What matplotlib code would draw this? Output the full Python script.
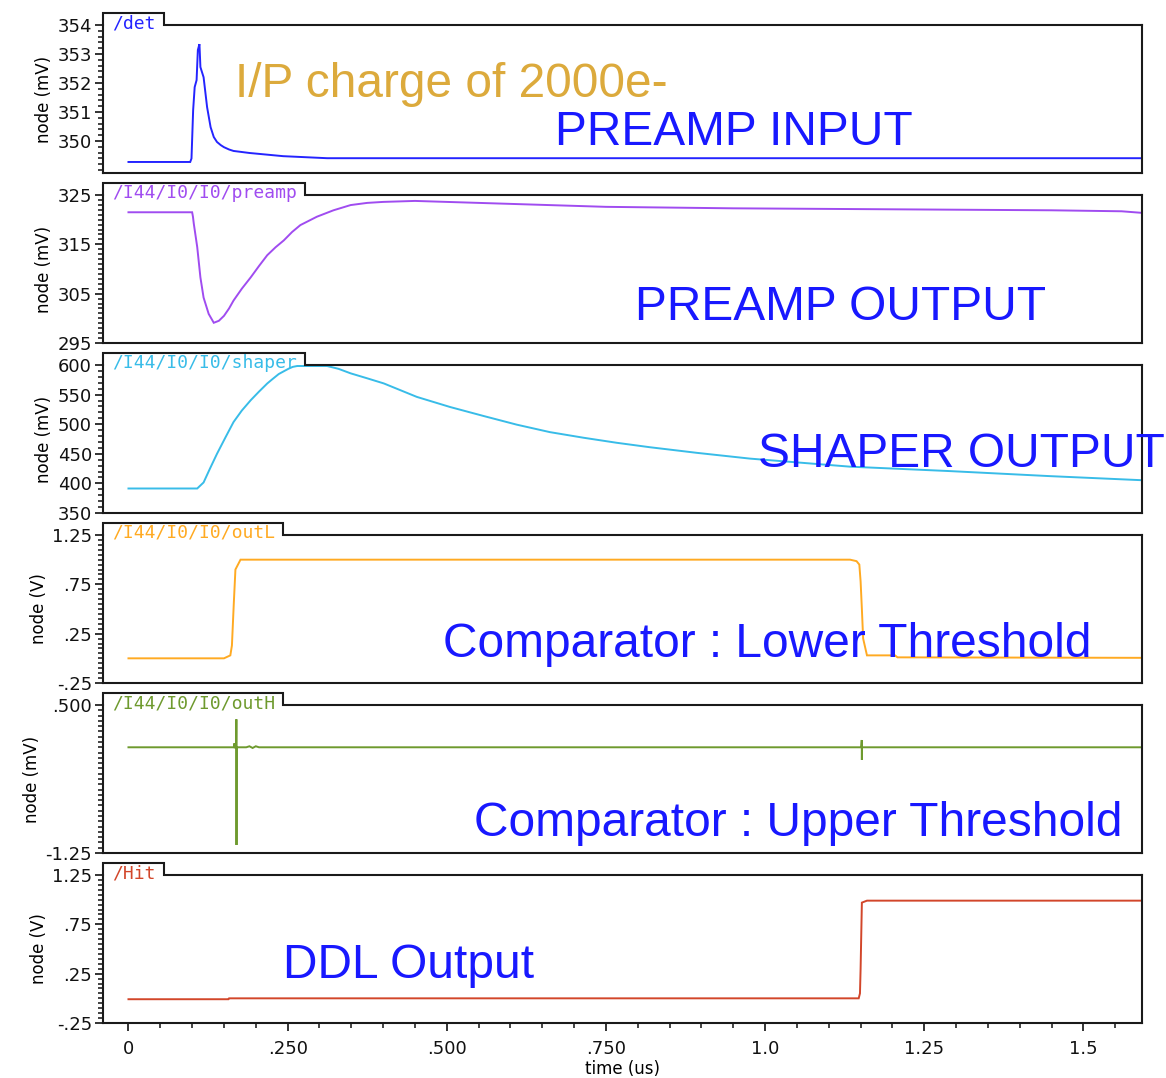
import matplotlib
matplotlib.use("Agg")
import matplotlib.pyplot as plt
from matplotlib.lines import Line2D
from matplotlib.ticker import FixedLocator, MultipleLocator, NullFormatter

W, H = 1166, 1078

# shared time axis (us)
time_ticks = [0, 0.25, 0.5, 0.75, 1.0, 1.25, 1.5]
time_labels = ["0", ".250", ".500", ".750", "1.0", "1.25", "1.5"]
time_lim = (-0.04, 1.592)

# /det  (mV)
det_t = [0.0, 0.097, 0.099, 0.1016, 0.104, 0.107, 0.109, 0.1115, 0.113, 0.118,
         0.1235, 0.129, 0.134, 0.139, 0.145, 0.150, 0.158, 0.165, 0.19, 0.243, 0.312, 0.8, 1.6]
det_v = [349.28, 349.28, 349.4, 351.07, 351.86, 352.1, 353.14, 353.34, 352.55, 352.2,
         351.17, 350.48, 350.14, 349.97, 349.86, 349.79, 349.71, 349.66, 349.59, 349.48,
         349.41, 349.41, 349.41]

# /I44/I0/I0/preamp  (mV)
pre_t = [0.0, 0.100, 0.1013, 0.1026, 0.108, 0.113, 0.118, 0.126, 0.134, 0.142, 0.150,
         0.158, 0.165, 0.178, 0.192, 0.205, 0.218, 0.231, 0.244, 0.257, 0.270, 0.296,
         0.322, 0.349, 0.375, 0.40, 0.45, 0.55, 0.65, 0.75, 0.95, 1.2, 1.45, 1.56, 1.6]
pre_v = [321.5, 321.5, 320.6, 319.2, 314.45, 308.3, 304.2, 300.9, 299.1, 299.5, 300.5,
         302.0, 303.6, 306.0, 308.3, 310.6, 312.8, 314.4, 315.8, 317.5, 318.9, 320.6,
         321.9, 322.96, 323.4, 323.6, 323.8, 323.4, 323.0, 322.6, 322.3, 322.1, 321.9,
         321.7, 321.3]

# /I44/I0/I0/shaper  (mV)
shp_t = [0.0, 0.108, 0.118, 0.128, 0.139, 0.152, 0.165, 0.178, 0.192, 0.205, 0.218,
         0.226, 0.236, 0.245, 0.252, 0.258, 0.265, 0.30, 0.312, 0.33, 0.349, 0.375,
         0.401, 0.453, 0.505, 0.558, 0.610, 0.662, 0.715, 0.767, 0.819, 0.893, 0.976,
         1.133, 1.290, 1.447, 1.6]
shp_v = [391.4, 391.4, 401.6, 425.0, 449.9, 477.0, 503.6, 523.0, 540.5, 555.0, 568.8,
         576.0, 584.7, 590.0, 594.0, 596.8, 598.3, 598.3, 598.3, 593.5, 585.9, 577.5,
         568.9, 546.1, 529.1, 513.8, 499.2, 486.6, 477.1, 468.6, 461.1, 451.6, 441.9,
         428.3, 420.8, 412.3, 405.0]

# /I44/I0/I0/outL  (V)
outl_t = [0.0, 0.150, 0.160, 0.1625, 0.1654, 0.168, 0.176, 0.40, 0.75, 1.1334, 1.1436,
          1.148, 1.150, 1.152, 1.154, 1.160, 1.204, 1.208, 1.6]
outl_v = [0.0, 0.0, 0.03, 0.13, 0.55, 0.9, 1.0, 1.0, 1.0, 1.0, 0.985,
          0.95, 0.78, 0.50, 0.2, 0.03, 0.03, 0.01, 0.005]

# /I44/I0/I0/outH  (mV)
outh_t = [0.0, 0.166, 0.1664, 0.1668, 0.1693, 0.1695, 0.1697, 0.1699, 0.185, 0.19,
          0.195, 0.20, 0.205, 1.151, 1.1518, 1.152, 1.1522, 1.16, 1.6]
outh_v = [0.0, 0.0, 0.047, 0.0, 0.0, 0.331, -1.155, 0.0, 0.0, 0.012,
          -0.008, 0.012, 0.0, 0.0, 0.086, -0.150, 0.0, 0.0, 0.0]

# /Hit  (V)
hit_t = [0.0, 0.157, 0.158, 1.147, 1.149, 1.150, 1.152, 1.160, 1.6]
hit_v = [-0.009, -0.009, 0.0, 0.0, 0.05, 0.3, 0.97, 0.99, 0.99]

BLUE_TXT = "#1818ff"
GOLD_TXT = "#dcaa3c"

panels = [
    dict(name="/det", color="#2424ff", t=det_t, v=det_v, ylim=(348.9, 354),
         ticks=[350, 351, 352, 353, 354], labels=["350", "351", "352", "353", "354"],
         minor=0.2, ylabel="node (mV)"),
    dict(name="/I44/I0/I0/preamp", color="#a04cf0", t=pre_t, v=pre_v, ylim=(295, 325),
         ticks=[295, 305, 315, 325], labels=["295", "305", "315", "325"],
         minor=1, ylabel="node (mV)"),
    dict(name="/I44/I0/I0/shaper", color="#38bce8", t=shp_t, v=shp_v, ylim=(350, 600),
         ticks=[350, 400, 450, 500, 550, 600], labels=["350", "400", "450", "500", "550", "600"],
         minor=10, ylabel="node (mV)"),
    dict(name="/I44/I0/I0/outL", color="#ffaa22", t=outl_t, v=outl_v, ylim=(-0.25, 1.25),
         ticks=[-0.25, 0.25, 0.75, 1.25], labels=["-.25", ".25", ".75", "1.25"],
         minor=0.05, ylabel="node (V)"),
    dict(name="/I44/I0/I0/outH", color="#6e9a2e", t=outh_t, v=outh_v, ylim=(-1.25, 0.5),
         ticks=[-1.25, 0.5], labels=["-1.25", ".500"],
         minor=0.0625, ylabel="node (mV)"),
    dict(name="/Hit", color="#d2462a", t=hit_t, v=hit_v, ylim=(-0.25, 1.25),
         ticks=[-0.25, 0.25, 0.75, 1.25], labels=["-.25", ".25", ".75", "1.25"],
         minor=0.05, ylabel="node (V)"),
]

# big annotations: (text, colour, left x px, baseline y px)
notes = [
    ("I/P charge of 2000e-", GOLD_TXT, 235, 97),
    ("PREAMP INPUT", BLUE_TXT, 555, 145),
    ("PREAMP OUTPUT", BLUE_TXT, 635, 320),
    ("SHAPER OUTPUT", BLUE_TXT, 758, 467),
    ("Comparator : Lower Threshold", BLUE_TXT, 443, 657),
    ("Comparator : Upper Threshold", BLUE_TXT, 474, 836),
    ("DDL Output", BLUE_TXT, 283, 978),
]

AX_LEFT, AX_RIGHT = 103, 1142
AX_TOPS = [25, 195, 365, 535, 705, 875]
AX_H = 148
FRAME = "#1a1a1a"


def fx(x):
    return x / W


def fy(y):
    return 1 - y / H


fig = plt.figure(figsize=(W / 100, H / 100), dpi=100)
renderer = fig.canvas.get_renderer()

for i, (p, top) in enumerate(zip(panels, AX_TOPS)):
    ax = fig.add_axes([fx(AX_LEFT), fy(top + AX_H), (AX_RIGHT - AX_LEFT) / W, AX_H / H])
    ax.plot(p["t"], p["v"], color=p["color"], lw=1.4, solid_joinstyle="miter")
    ax.set_xlim(*time_lim)
    ax.set_ylim(*p["ylim"])

    ax.yaxis.set_major_locator(FixedLocator(p["ticks"]))
    ax.set_yticklabels(p["labels"])
    ax.yaxis.set_minor_locator(MultipleLocator(p["minor"]))
    ax.tick_params(axis="y", which="major", direction="out", length=6, width=1.2,
                   labelsize=13, pad=2, colors="#111111")
    ax.tick_params(axis="y", which="minor", direction="out", length=3.5, width=1.1,
                   colors="#111111")
    ax.set_ylabel(p["ylabel"], fontsize=12, labelpad=3)

    for side in ("left", "right", "bottom"):
        ax.spines[side].set_linewidth(1.5)
        ax.spines[side].set_color(FRAME)
    ax.spines["top"].set_visible(False)

    if i == len(panels) - 1:
        ax.set_xticks(time_ticks)
        ax.set_xticklabels(time_labels)
        ax.xaxis.set_minor_locator(MultipleLocator(0.05))
        ax.tick_params(axis="x", which="major", direction="out", length=6, width=1.2,
                       labelsize=13, pad=6, colors="#111111")
        ax.tick_params(axis="x", which="minor", direction="out", length=3.5, width=1.1,
                       colors="#111111")
        ax.set_xlabel("time (us)", fontsize=12, labelpad=2)
    else:
        ax.set_xticks([])
        ax.xaxis.set_minor_formatter(NullFormatter())

    # signal name tab sitting on the top edge
    label = fig.text(fx(AX_LEFT + 9), fy(top + 3), p["name"], color=p["color"],
                     family="DejaVu Sans Mono", fontsize=13, va="baseline", ha="left")
    ext = label.get_window_extent(renderer)
    tab_right = ext.x1 + 8
    xs = [AX_LEFT, AX_LEFT, tab_right, tab_right, AX_RIGHT]
    ys = [top, top - 12, top - 12, top, top]
    fig.add_artist(Line2D([fx(x) for x in xs], [fy(y) for y in ys], color=FRAME,
                          lw=1.5, transform=fig.transFigure, solid_joinstyle="miter"))

for text, color, x, y in notes:
    fig.text(fx(x), fy(y), text, color=color, family="Liberation Sans", fontsize=34.5,
             ha="left", va="baseline", zorder=5)

fig.savefig("out.png", dpi=100, facecolor="white")
